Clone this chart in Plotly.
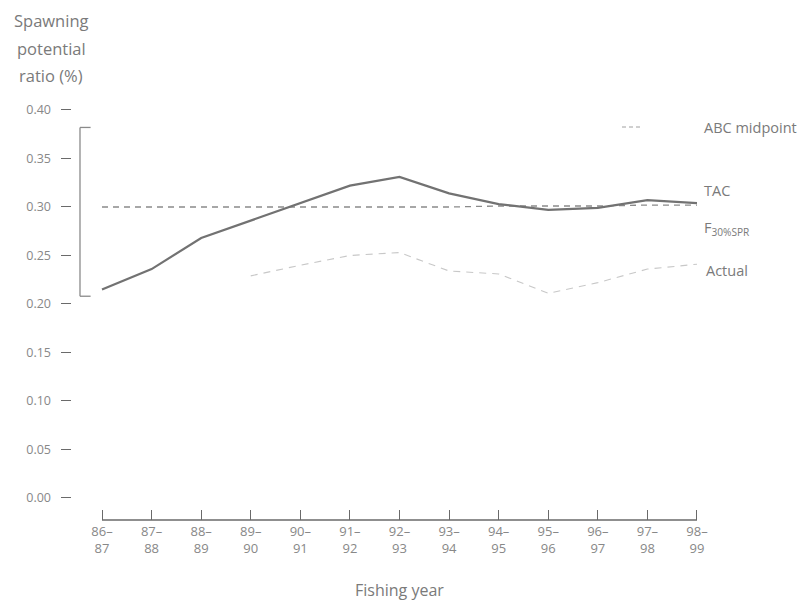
import plotly.graph_objects as go

years = ["86–<br>87", "87–<br>88", "88–<br>89", "89–<br>90", "90–<br>91", "91–<br>92",
         "92–<br>93", "93–<br>94", "94–<br>95", "95–<br>96", "96–<br>97", "97–<br>98", "98–<br>99"]
tac = [0.215, 0.236, 0.268, 0.286, 0.304, 0.322, 0.331, 0.314, 0.303, 0.297, 0.299, 0.307, 0.304]
f30_spr = [0.300, 0.300, 0.300, 0.300, 0.300, 0.300, 0.300, 0.300, 0.301, 0.301, 0.301, 0.302, 0.302]
actual = [None, None, None, 0.229, 0.240, 0.250, 0.253, 0.234, 0.231, 0.211, 0.222, 0.236, 0.241]
yticks = [0.00, 0.05, 0.10, 0.15, 0.20, 0.25, 0.30, 0.35, 0.40]
bracket_range = [0.208, 0.382]

xi = list(range(len(years)))
FONT = "Open Sans"
GREY = "#7a7a7a"

fig = go.Figure()
fig.add_trace(go.Scatter(x=xi, y=f30_spr, mode="lines",
                         line=dict(color="#8a8a8a", width=1.3, dash="6px,5px"), showlegend=False))
fig.add_trace(go.Scatter(x=xi, y=actual, mode="lines",
                         line=dict(color="#c8c8c8", width=1.1, dash="7px,6px"), showlegend=False))
fig.add_trace(go.Scatter(x=xi, y=tac, mode="lines",
                         line=dict(color="#727272", width=2.2), showlegend=False))

# bottom axis line
fig.add_shape(type="line", xref="x", yref="paper", x0=xi[0], x1=xi[-1], y0=0, y1=0,
              line=dict(color="#6a6a6a", width=1.5))
# bracket
bx0, bx1 = -0.444, -0.23
fig.add_shape(type="line", xref="x", yref="y", x0=bx0, x1=bx0, y0=bracket_range[0], y1=bracket_range[1],
              line=dict(color="#8a8a8a", width=1.3))
for yv in bracket_range:
    fig.add_shape(type="line", xref="x", yref="y", x0=bx0, x1=bx1, y0=yv, y1=yv,
                  line=dict(color="#8a8a8a", width=1.3))
# ABC midpoint legend sample
fig.add_shape(type="line", xref="paper", yref="paper", x0=(622-61)/659, x1=(641-61)/659,
              y0=1-(127-100)/420, y1=1-(127-100)/420,
              line=dict(color="#a0a0a0", width=1, dash="4px,3px"))

labels = [("ABC midpoint", 702, 127), ("TAC", 702, 190),
          ("F<sub>30%SPR</sub>", 702, 228), ("Actual", 704, 270)]
for txt, px, py in labels:
    fig.add_annotation(text=txt, xref="paper", yref="paper", x=(px-61)/659, y=1-(py-100)/420,
                       xanchor="left", yanchor="middle", showarrow=False,
                       font=dict(family=FONT, size=14.5, color=GREY))

for txt, py in [("Spawning", 20), ("potential", 48), ("ratio (%)", 75)]:
    fig.add_annotation(text=txt, xref="paper", yref="paper", x=(51-61)/659, y=1-(py-100)/420,
                       xanchor="center", yanchor="middle", showarrow=False,
                       font=dict(family=FONT, size=16.5, color=GREY))

fig.add_annotation(text="Fishing year", xref="paper", yref="paper", x=(399-61)/659,
                   y=1-(590-100)/420, xanchor="center", yanchor="middle", showarrow=False,
                   font=dict(family=FONT, size=16, color=GREY))

fig.update_layout(
    width=802, height=605, margin=dict(l=61, r=82, t=100, b=85),
    plot_bgcolor="white", paper_bgcolor="white",
    font=dict(family=FONT, color=GREY),
    xaxis=dict(range=[-0.827, 12.464], tickmode="array", tickvals=xi, ticktext=years,
               ticks="inside", ticklen=10, tickwidth=1.2, tickcolor="#6a6a6a",
               showgrid=False, zeroline=False, showline=False,
               tickfont=dict(family=FONT, size=13, color="#888888"), ticklabelstandoff=2),
    yaxis=dict(range=[-0.0227, 0.4103], tickmode="array", tickvals=yticks,
               ticktext=[f"{v:.2f}" for v in yticks],
               ticks="inside", ticklen=10, tickwidth=1.3, tickcolor="#6a6a6a",
               showgrid=False, zeroline=False, showline=False,
               tickfont=dict(family=FONT, size=12.5, color="#888888"), ticklabelstandoff=9),
)
fig.write_html("out.html")
